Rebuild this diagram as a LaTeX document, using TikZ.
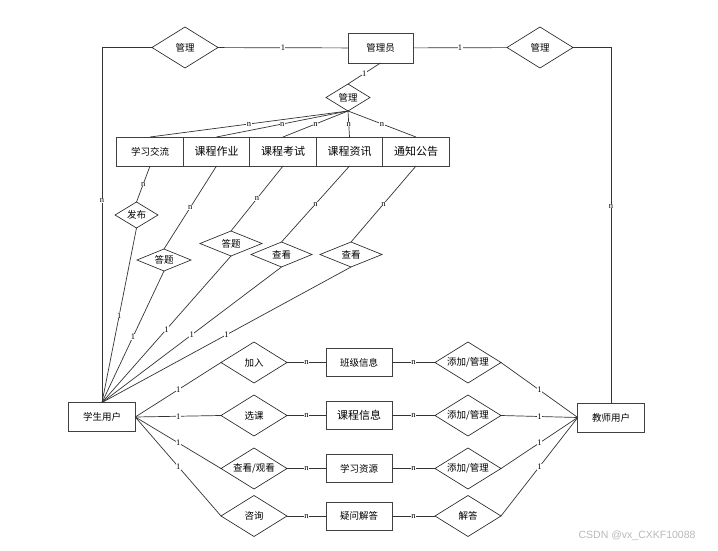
\documentclass[tikz,border=0pt]{standalone}
\usepackage{fontspec}
\setmainfont{Noto Sans CJK SC}
\newfontfamily\numfont{Liberation Serif}
\newfontfamily\markfont{Liberation Sans}
\usetikzlibrary{shapes.geometric,positioning}

\begin{document}
\begin{tikzpicture}[
    x=1pt, y=-1pt,
    entity/.style={rectangle, draw=black!75, line width=0.9pt, outer sep=0pt, minimum width=66.5pt, minimum height=29pt, inner sep=1pt, font=\fontsize{9.5}{10}\selectfont},
    big/.style={font=\fontsize{11}{12}\selectfont},
    relation/.style={diamond, draw=black!85, line width=0.65pt, outer sep=0pt, aspect=1.6, inner sep=0pt, minimum width=66pt, minimum height=41pt, font=\fontsize{9.5}{10}\selectfont},
    link/.style={draw=black!80, line width=0.7pt},
    card/.style={fill=white, inner sep=0.4pt, font=\numfont\fontsize{8.5}{9}\selectfont}
]
    \useasboundingbox (0,0) rectangle (718,551);

    % Entities
    \node[entity, minimum width=65pt, minimum height=30pt] (admin) at (380.5,48) {管理员};
    \node[entity] (student) at (102,417) {学生用户};
    \node[entity] (teacher) at (611,417.5) {教师用户};

    % Admin relations
    \node[relation] (mngleft) at (185,47.5) {管理};
    \node[relation] (mngright) at (540,47.5) {管理};
    \node[relation, minimum width=44pt, minimum height=27pt] (mngmid) at (348,97.5) {管理};

    % Content row
    \node[entity] (exchange) at (150,151.5) {学习交流};
    \node[entity, big, right=0pt of exchange] (homework) {课程作业};
    \node[entity, big, right=0pt of homework] (exam) {课程考试};
    \node[entity, big, right=0pt of exam] (news) {课程资讯};
    \node[entity, big, right=0pt of news] (notice) {通知公告};

    % Student relations
    \node[relation, minimum width=43pt, minimum height=26pt] (publish) at (136.5,215) {发布};
    \node[relation, minimum width=54pt, minimum height=22pt] (answerA) at (164,260) {答题};
    \node[relation, minimum width=62pt, minimum height=25pt] (answerB) at (231,243.5) {答题};
    \node[relation, minimum width=61pt, minimum height=25pt] (viewA) at (281.5,254.5) {查看};
    \node[relation, minimum width=62pt, minimum height=25pt] (viewB) at (351,254.5) {查看};

    % Lower rows
    \node[relation] (join) at (254,362.5) {加入};
    \node[relation] (select) at (254,415.5) {选课};
    \node[relation] (watch) at (254,468.5) {查看/观看};
    \node[relation] (consult) at (254,516) {咨询};

    \node[entity, minimum width=66pt, minimum height=28pt] (classinfo) at (359,362.5) {班级信息};
    \node[entity, big, minimum width=66pt, minimum height=28pt] (courseinfo) at (359,415.5) {课程信息};
    \node[entity, minimum width=66pt, minimum height=28pt] (resource) at (359,468.5) {学习资源};
    \node[entity, minimum width=66pt, minimum height=28pt] (question) at (359,516) {疑问解答};

    \node[relation] (addA) at (468,362.5) {添加/管理};
    \node[relation] (addB) at (468,415.5) {添加/管理};
    \node[relation] (addC) at (468,468.5) {添加/管理};
    \node[relation] (reply) at (468,516) {解答};

    % Links of the admin
    \draw[link] (mngleft) -- node[card] {1} (admin);
    \draw[link] (admin) -- node[card] {1} (mngright);
    \draw[link] (mngleft.west) -| node[card, pos=0.715] {n} (student.north);
    \draw[link] (mngright.east) -| node[card, pos=0.723] {n} (teacher.north);
    \draw[link] (admin.south) -- node[card] {1} (mngmid.north);
    \draw[link] (mngmid.south) -- node[card] {n} (exchange.north);
    \draw[link] (mngmid.south) -- node[card] {n} (homework.north);
    \draw[link] (mngmid.south) -- node[card] {n} (exam.north);
    \draw[link] (mngmid.south) -- node[card] {n} (news.north);
    \draw[link] (mngmid.south) -- node[card] {n} (notice.north);

    % Links of the student to the content
    \draw[link] (exchange.south) -- node[card] {n} (publish.north);
    \draw[link] (homework.south) -- node[card] {n} (answerA.north);
    \draw[link] (exam.south) -- node[card] {n} (answerB.north);
    \draw[link] (news.south) -- node[card] {n} (viewA.north);
    \draw[link] (notice.south) -- node[card] {n} (viewB.north);
    \draw[link] (publish.south) -- node[card] {1} (student.north);
    \draw[link] (answerA.south) -- node[card] {1} (student.north);
    \draw[link] (answerB.south) -- node[card] {1} (student.north);
    \draw[link] (viewA.south) -- node[card] {1} (student.north);
    \draw[link] (viewB.south) -- node[card] {1} (student.north);

    % Links of the lower rows
    \draw[link] (student.east) -- node[card] {1} (join.west);
    \draw[link] (student.east) -- node[card] {1} (select.west);
    \draw[link] (student.east) -- node[card] {1} (watch.west);
    \draw[link] (student.east) -- node[card] {1} (consult.west);
    \draw[link] (join) -- node[card] {n} (classinfo);
    \draw[link] (select) -- node[card] {n} (courseinfo);
    \draw[link] (watch) -- node[card] {n} (resource);
    \draw[link] (consult) -- node[card] {n} (question);
    \draw[link] (classinfo) -- node[card] {n} (addA);
    \draw[link] (courseinfo) -- node[card] {n} (addB);
    \draw[link] (resource) -- node[card] {n} (addC);
    \draw[link] (question) -- node[card] {n} (reply);
    \draw[link] (addA.east) -- node[card] {1} (teacher.west);
    \draw[link] (addB.east) -- node[card] {1} (teacher.west);
    \draw[link] (addC.east) -- node[card] {1} (teacher.west);
    \draw[link] (reply.east) -- node[card] {1} (teacher.west);

    % Watermark
    \node[font=\markfont\fontsize{10.5}{11}\selectfont, text=black!28, anchor=east] (mark) at (699,536) {CSDN @vx\_CXKF10088};
\end{tikzpicture}
\end{document}
